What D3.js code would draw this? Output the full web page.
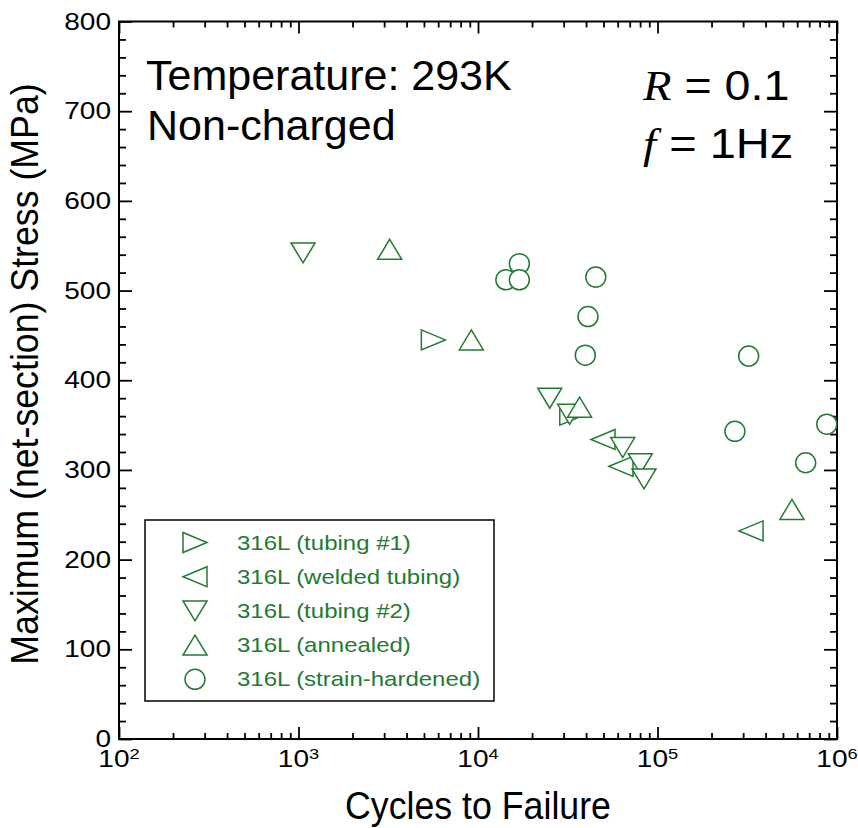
<!DOCTYPE html>
<html>
<head>
<meta charset="utf-8">
<script src="https://cdn.jsdelivr.net/npm/d3@7"></script>
<style>
  html, body { margin: 0; padding: 0; background: #fff; }
  svg { display: block; }
  text { font-family: "Liberation Sans", Arial, Helvetica, sans-serif; }
</style>
</head>
<body>
<svg id="chart" width="858" height="828"></svg>
<script>
// ---- data: cycles to failure and maximum (net-section) stress, MPa ----
const seriesNames = [
  "316L (tubing #1)",
  "316L (welded tubing)",
  "316L (tubing #2)",
  "316L (annealed)",
  "316L (strain-hardened)"
];
const seriesShapes = ["right", "left", "down", "up", "circle"];

const tubing1Cycles = [5640, 33300];
const tubing1Stress = [445, 361];

const weldedCycles = [49700, 62600, 332000];
const weldedStress = [334, 304, 232];

const tubing2Cycles = [1060, 25100, 32400, 64000, 80200, 84100];
const tubing2Stress = [542, 380, 362, 325, 307, 290];

const annealedCycles = [3220, 9180, 36800, 561000];
const annealedStress = [546, 445, 370, 256];

const hardenedCycles = [14300, 17000, 17000, 45300, 41000, 39600, 322000, 270000, 877000, 669000];
const hardenedStress = [512, 530, 512, 515, 471, 428, 427, 343, 351, 308];

const xMajorTicks = [1e2, 1e3, 1e4, 1e5, 1e6];
const xTickExponents = ["2", "3", "4", "5", "6"];
const yMajorTicks = [0, 100, 200, 300, 400, 500, 600, 700, 800];

const seriesCycles = [tubing1Cycles, weldedCycles, tubing2Cycles, annealedCycles, hardenedCycles];
const seriesStress = [tubing1Stress, weldedStress, tubing2Stress, annealedStress, hardenedStress];

(function draw() {
  // ---- layout ----
  const svg = d3.select("#chart");
  const plotLeft = 119, plotRight = 837, plotTop = 21.5, plotBottom = 739;
  const green = "#237a32";

  const x = d3.scaleLog().domain([1e2, 1e6]).range([plotLeft, plotRight]);
  const y = d3.scaleLinear().domain([0, 800]).range([plotBottom, plotTop]);

  const xMinorTicks = [];
  for (let k = 2; k < 6; k++) for (let m = 2; m <= 9; m++) xMinorTicks.push(m * Math.pow(10, k));
  const yMinorTicks = d3.range(0, 801, 20).filter(v => v % 100 !== 0);

  // ---- axes with inward ticks on all four sides ----
  function styleAxis(g) {
    g.select(".domain").remove();
    g.selectAll(".tick line").attr("stroke", "#000").attr("stroke-width", 1.8);
  }
  const axes = [
    [() => d3.axisBottom(x), `translate(0,${plotBottom})`, xMajorTicks, xMinorTicks, 12, 6],
    [() => d3.axisTop(x), `translate(0,${plotTop})`, xMajorTicks, xMinorTicks, 12, 6],
    [() => d3.axisLeft(y), `translate(${plotLeft},0)`, yMajorTicks, yMinorTicks, 13, 7],
    [() => d3.axisRight(y), `translate(${plotRight},0)`, yMajorTicks, yMinorTicks, 13, 7]
  ];
  axes.forEach(([mk, tr, major, minor, lenMajor, lenMinor]) => {
    svg.append("g").attr("transform", tr)
      .call(mk().tickValues(major).tickSize(-lenMajor).tickSizeOuter(0).tickFormat(""))
      .call(styleAxis);
    svg.append("g").attr("transform", tr)
      .call(mk().tickValues(minor).tickSize(-lenMinor).tickSizeOuter(0).tickFormat(""))
      .call(styleAxis);
  });

  // plot frame
  svg.append("rect")
    .attr("x", plotLeft).attr("y", plotTop)
    .attr("width", plotRight - plotLeft).attr("height", plotBottom - plotTop)
    .attr("fill", "none").attr("stroke", "#000").attr("stroke-width", 2);

  // y tick labels
  svg.append("g").selectAll("text").data(yMajorTicks).join("text")
    .attr("transform", d => `translate(111,${y(d) + 8}) scale(1.22,1)`)
    .attr("text-anchor", "end")
    .attr("font-size", 23)
    .attr("fill", "#000")
    .text(d => d);

  // x tick labels as powers of ten
  const xl = svg.append("g").selectAll("text").data(xMajorTicks).join("text")
    .attr("transform", d => `translate(${x(d)},767) scale(1.22,1)`)
    .attr("text-anchor", "middle")
    .attr("font-size", 23)
    .attr("fill", "#000");
  xl.append("tspan").text("10");
  xl.append("tspan").attr("font-size", 15).attr("dy", -8).text((d, i) => xTickExponents[i]);

  // axis titles
  svg.append("text")
    .attr("transform", `translate(${(plotLeft + plotRight) / 2},819) scale(0.94,1)`)
    .attr("text-anchor", "middle")
    .attr("font-size", 38)
    .attr("fill", "#000")
    .text("Cycles to Failure");

  svg.append("text")
    .attr("transform", `translate(38,374) rotate(-90) scale(0.94,1)`)
    .attr("text-anchor", "middle")
    .attr("font-size", 38)
    .attr("fill", "#000")
    .text("Maximum (net-section) Stress (MPa)");

  // ---- markers ----
  function markerPath(shape) {
    switch (shape) {
      case "up": return "M0,-10L12,10L-12,10Z";
      case "down": return "M-12,-10L12,-10L0,10Z";
      case "right": return "M-12,-10L12,0L-12,10Z";
      case "left": return "M12,-10L-12,0L12,10Z";
      default: return "M10,0A10,10 0 1,1 -10,0A10,10 0 1,1 10,0Z";
    }
  }

  seriesNames.forEach((name, s) => {
    const pts = seriesCycles[s].map((c, i) => ({ c, v: seriesStress[s][i] }));
    svg.append("g").selectAll("path").data(pts).join("path")
      .attr("transform", d => `translate(${x(d.c)},${y(d.v)})`)
      .attr("d", markerPath(seriesShapes[s]))
      .attr("fill", "#fff")
      .attr("stroke", green)
      .attr("stroke-width", 1.5);
  });

  // ---- legend ----
  const legend = svg.append("g");
  legend.append("rect")
    .attr("x", 145).attr("y", 520).attr("width", 349).attr("height", 181)
    .attr("fill", "#fff").attr("stroke", "#000").attr("stroke-width", 1.5);
  const rows = legend.selectAll("g.row").data(seriesNames).join("g")
    .attr("class", "row")
    .attr("transform", (d, i) => `translate(0,${542.5 + i * 34.2})`);
  rows.append("path")
    .attr("transform", "translate(195,0)")
    .attr("d", (d, i) => markerPath(seriesShapes[i]))
    .attr("fill", "#fff").attr("stroke", green).attr("stroke-width", 1.5);
  rows.append("text")
    .attr("transform", "translate(237,7) scale(1.2,1)")
    .attr("font-size", 20)
    .attr("fill", green)
    .text(d => d);

  // ---- annotations ----
  svg.append("text").attr("x", 146).attr("y", 90).attr("font-size", 43).attr("fill", "#000")
    .text("Temperature: 293K");
  svg.append("text").attr("x", 147).attr("y", 140).attr("font-size", 43).attr("fill", "#000")
    .text("Non-charged");

  const r1 = svg.append("text").attr("transform", "translate(643,100) scale(1.11,1)")
    .attr("font-size", 42).attr("fill", "#000");
  r1.append("tspan").attr("font-family", "'Liberation Serif', 'Times New Roman', serif")
    .attr("font-style", "italic").text("R");
  r1.append("tspan").text(" = 0.1");

  const r2 = svg.append("text").attr("transform", "translate(643,158) scale(1.12,1)")
    .attr("font-size", 42).attr("fill", "#000");
  r2.append("tspan").attr("font-family", "'Liberation Serif', 'Times New Roman', serif")
    .attr("font-style", "italic").text("f");
  r2.append("tspan").text(" = 1Hz");
})();
</script>
</body>
</html>
